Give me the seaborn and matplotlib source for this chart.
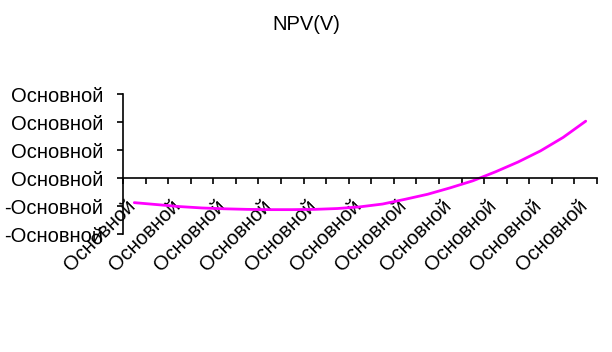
import numpy
import pandas
import seaborn
import matplotlib
matplotlib.use("Agg")
import matplotlib.pyplot as pyplot
from matplotlib.ticker import FixedLocator, FuncFormatter
from matplotlib.transforms import ScaledTranslation

seaborn.set_style("ticks")
pyplot.rcParams["font.family"] = ["Liberation Sans", "DejaVu Sans"]
pyplot.rcParams["text.color"] = "black"
pyplot.rcParams["xtick.color"] = "black"
pyplot.rcParams["ytick.color"] = "black"
pyplot.rcParams["xtick.labelcolor"] = "black"
pyplot.rcParams["ytick.labelcolor"] = "black"

# values (one unit = one y tick)
npv = [-0.88, -0.95, -1.02, -1.07, -1.10, -1.12, -1.13, -1.13, -1.12, -1.09, -1.03,
       -0.93, -0.76, -0.58, -0.35, -0.10, 0.22, 0.57, 0.97, 1.45, 2.03]
points = list(range(len(npv)))
label_text = "Основной"
y_ticks = [-2, -1, 0, 1, 2, 3]

data = pandas.DataFrame({"point": points, "npv": npv})

fig = pyplot.figure(figsize=(6.12, 3.52), dpi=100)
ax = fig.add_axes([123 / 612, 1 - 234 / 352, 474 / 612, 140 / 352])
seaborn.lineplot(data=data, x="point", y="npv", color="#FF00FF", linewidth=2, ax=ax)

ax.set_xlim(-0.5, len(npv) - 0.5)
ax.set_ylim(y_ticks[0], y_ticks[-1])
ax.set_xlabel("")
ax.set_ylabel("")

ax.spines["top"].set_visible(False)
ax.spines["right"].set_visible(False)
ax.spines["bottom"].set_position(("data", 0))
for s in ["left", "bottom"]:
    ax.spines[s].set_linewidth(1.2)
    ax.spines[s].set_color("black")

# category boundaries as tick marks, labels on every second category
ax.xaxis.set_major_locator(FixedLocator([i - 0.5 for i in range(len(npv) + 1)]))
ax.xaxis.set_major_formatter(FuncFormatter(lambda v, p: ""))
ax.xaxis.set_minor_locator(FixedLocator(points[::2]))
ax.xaxis.set_minor_formatter(FuncFormatter(lambda v, p: label_text))
ax.tick_params(axis="x", which="major", length=4.5, width=1.2, color="black", direction="out")
ax.tick_params(axis="x", which="minor", length=0, pad=13, labelsize=14.5, labelcolor="black")
for lab in ax.xaxis.get_minorticklabels():
    lab.set_rotation(45)
    lab.set_ha("right")
    lab.set_va("top")
    lab.set_transform(lab.get_transform() + ScaledTranslation(5 / 100, 0, fig.dpi_scale_trans))

ax.set_yticks(y_ticks)
ax.yaxis.set_major_formatter(FuncFormatter(lambda v, p: ("-" if v < 0 else "") + label_text))
ax.tick_params(axis="y", length=4, width=1.2, color="black", pad=10, labelsize=14.5, labelcolor="black")

fig.text(0.5, 1 - 24 / 352, "NPV(V)", ha="center", va="center", fontsize=14.5, color="black")

fig.savefig("out.png", dpi=100)
